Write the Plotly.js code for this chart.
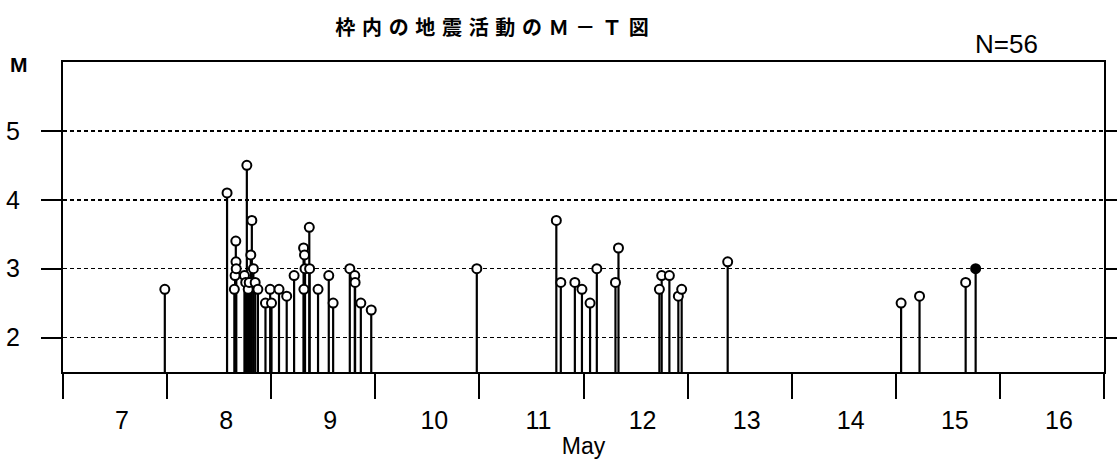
<!DOCTYPE html>
<html>
<head>
<meta charset="utf-8">
<script src="https://cdn.plot.ly/plotly-3.0.1.min.js"></script>
<style>html,body{margin:0;padding:0;background:#fff;}#chart{width:1117px;height:459px;}</style>
</head>
<body>
<div id="chart"></div>
<script>
// Event times (decimal day of May) and magnitudes
const days = [7.978, 8.576, 8.646, 8.653, 8.660, 8.662, 8.664, 8.743, 8.755, 8.766, 8.779, 8.789, 8.804, 8.814, 8.829, 8.846, 8.872, 8.945, 8.990, 9.003, 9.075, 9.149, 9.220, 9.311, 9.314, 9.320, 9.325, 9.366, 9.369, 9.450, 9.553, 9.595, 9.755, 9.803, 9.806, 9.861, 9.961, 10.975, 11.739, 11.782, 11.917, 11.985, 12.063, 12.128, 12.307, 12.336, 12.729, 12.751, 12.825, 12.911, 12.943, 13.385, 15.051, 15.228, 15.671, 15.767];
const mags = [2.7, 4.1, 2.7, 2.9, 3.4, 3.1, 3.0, 2.9, 2.8, 4.5, 2.7, 2.8, 3.2, 3.7, 3.0, 2.8, 2.7, 2.5, 2.7, 2.5, 2.7, 2.6, 2.9, 3.3, 2.7, 3.2, 3.0, 3.6, 3.0, 2.7, 2.9, 2.5, 3.0, 2.9, 2.8, 2.5, 2.4, 3.0, 3.7, 2.8, 2.8, 2.7, 2.5, 3.0, 2.8, 3.3, 2.7, 2.9, 2.9, 2.6, 2.7, 3.1, 2.5, 2.6, 2.8, 3.0];
const dayLabels = ['7', '8', '9', '10', '11', '12', '13', '14', '15', '16'];
const dayLabelPos = [7.5, 8.5, 9.5, 10.5, 11.5, 12.5, 13.5, 14.5, 15.5, 16.5];
const dayBounds = [7, 8, 9, 10, 11, 12, 13, 14, 15, 16, 17];
const magTicks = [2, 3, 4, 5];
const baseM = 1.5;
const topM = 6;
const titleText = '枠内の地震活動のＭ－Ｔ図';
const countText = 'N=56';

const sep = '\u2004';
const spacedTitle = Array.from(titleText).join(sep);

const nEv = days.length;
const markerFill = mags.map((m, i) => i === nEv - 1 ? 'black' : 'white');

const trace = {
  x: days,
  y: mags,
  type: 'scatter',
  mode: 'markers',
  marker: {symbol: 'circle', size: 9, color: markerFill, line: {color: 'black', width: 2}},
  error_y: {
    type: 'data', symmetric: false,
    array: mags.map(() => 0),
    arrayminus: mags.map(m => m - baseM),
    width: 0, thickness: 2.2, color: 'black'
  },
  hoverinfo: 'x+y',
  showlegend: false
};

const numFont = {family: '"Liberation Sans", Arial, sans-serif', size: 25, color: 'black'};

const layout = {
  width: 1117, height: 459,
  margin: {l: 63, r: 13, t: 62, b: 87},
  paper_bgcolor: 'white', plot_bgcolor: 'white',
  showlegend: false,
  title: {
    text: spacedTitle,
    font: {family: '"Noto Sans CJK JP", sans-serif', size: 20, weight: 'bold', color: 'black'},
    x: 492 / 1117, xref: 'container', xanchor: 'center',
    y: 1 - 27.5 / 459, yref: 'container', yanchor: 'middle'
  },
  xaxis: {
    range: [7, 17],
    tickmode: 'array', tickvals: dayLabelPos, ticktext: dayLabels,
    ticks: 'outside', ticklen: 25, tickcolor: 'rgba(0,0,0,0)', tickwidth: 1,
    ticklabelshift: 7,
    tickfont: numFont,
    minor: {tickmode: 'array', tickvals: dayBounds, ticks: 'outside', ticklen: 25, tickwidth: 2, tickcolor: 'black', showgrid: false},
    showgrid: false, zeroline: false,
    showline: true, linecolor: 'black', linewidth: 2, mirror: true,
    title: {text: 'May', font: {family: '"Liberation Sans", Arial, sans-serif', size: 23, color: 'black'}, standoff: 8}
  },
  yaxis: {
    range: [baseM, topM],
    tickmode: 'array', tickvals: magTicks,
    ticks: 'outside', ticklen: 20, tickwidth: 2, tickcolor: 'black',
    ticklabelstandoff: 16,
    tickfont: numFont,
    showgrid: true, gridcolor: 'black', gridwidth: 1.5, griddash: '4px,3px',
    zeroline: false,
    showline: true, linecolor: 'black', linewidth: 2, mirror: 'ticks'
  },
  annotations: [
    {text: countText, xref: 'paper', yref: 'paper', x: (1006 - 63) / 1041, y: (373 - 45) / 310,
     xanchor: 'center', yanchor: 'middle', showarrow: false,
     font: {family: '"Liberation Sans", Arial, sans-serif', size: 26, color: 'black'}},
    {text: 'M', xref: 'paper', yref: 'paper', x: (19 - 63) / 1041, y: (373 - 65) / 310,
     xanchor: 'center', yanchor: 'middle', showarrow: false,
     font: {family: '"Liberation Sans", Arial, sans-serif', size: 21, weight: 'bold', color: 'black'}}
  ]
};

Plotly.newPlot('chart', [trace], layout, {staticPlot: true, displayModeBar: false});
</script>
</body>
</html>
